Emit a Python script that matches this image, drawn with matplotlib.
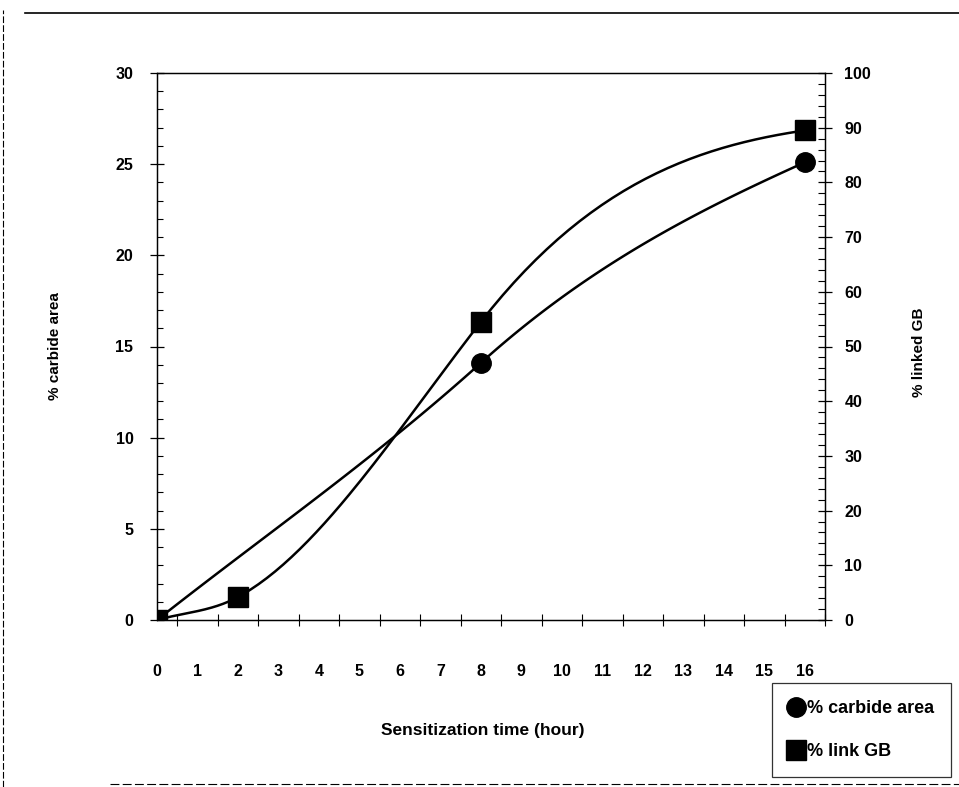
import numpy as np
import matplotlib
matplotlib.use("Agg")
import matplotlib.pyplot as plt
from matplotlib.lines import Line2D
from matplotlib.ticker import MultipleLocator

plt.rcParams["font.family"] = ["Liberation Sans", "DejaVu Sans"]
plt.rcParams["font.weight"] = "bold"

# data
carbide_hours = [0, 8, 16]
carbide_area = [0, 14.1, 25.1]
# slope of the drawn curve at each point (units per hour)
carbide_slope = [1.75, 2.0, 1.0]

link_hours = [0, 2, 8, 16]
link_gb = [0, 4.2, 54.5, 89.5]
link_slope = [2.1, 4.0, 9.5, 1.1]

hour_labels = [str(h) for h in range(17)]

X_MAX = 16.5
Y_LEFT_MAX = 30
Y_RIGHT_MAX = 100


def hermite(xs, ys, ms, n=60):
    # cubic Hermite pieces so the line bends the way the scanned one does
    out_x, out_y = [], []
    for i in range(len(xs) - 1):
        h = xs[i + 1] - xs[i]
        s = np.linspace(0, 1, n)
        h00 = 2 * s ** 3 - 3 * s ** 2 + 1
        h10 = s ** 3 - 2 * s ** 2 + s
        h01 = -2 * s ** 3 + 3 * s ** 2
        h11 = s ** 3 - s ** 2
        out_x.append(xs[i] + s * h)
        out_y.append(h00 * ys[i] + h10 * h * ms[i]
                     + h01 * ys[i + 1] + h11 * h * ms[i + 1])
    return np.concatenate(out_x), np.concatenate(out_y)


fig = plt.figure(figsize=(9.59, 7.87), dpi=100)
ax = fig.add_axes([157 / 959, 1 - 620 / 787, 668 / 959, 547 / 787])
ax2 = ax.twinx()

# curves
cx, cy = hermite(carbide_hours, carbide_area, carbide_slope)
ax.plot(cx, cy, color="black", lw=1.8, zorder=3)
ax.plot(carbide_hours, carbide_area, "o", color="black", ms=14, zorder=4)

lx, ly = hermite(link_hours, link_gb, link_slope)
ax2.plot(lx, ly, color="black", lw=1.8, zorder=3)
ax2.plot(link_hours, link_gb, "s", color="black", ms=14, zorder=4)

ax.set_xlim(0, X_MAX)
ax.set_ylim(0, Y_LEFT_MAX)
ax2.set_ylim(0, Y_RIGHT_MAX)

# x axis: labels on the hours, tick marks between them
ax.set_xticks(range(len(hour_labels)))
ax.set_xticklabels(hour_labels, fontsize=11.5, fontweight="bold")
ax.set_xticks(np.arange(0.5, 17, 1.0), minor=True)
ax.tick_params(axis="x", which="major", length=0, pad=32)
ax.tick_params(axis="x", which="minor", direction="inout", length=9, width=0.8)

# left axis
ax.yaxis.set_major_locator(MultipleLocator(5))
ax.yaxis.set_minor_locator(MultipleLocator(1))
ax.tick_params(axis="y", which="major", direction="inout", length=10,
               width=0.9, labelsize=11.5, pad=12)
ax.tick_params(axis="y", which="minor", direction="in", length=4, width=0.8)
for lab in ax.get_yticklabels():
    lab.set_fontweight("bold")

# right axis
ax2.yaxis.set_major_locator(MultipleLocator(10))
ax2.yaxis.set_minor_locator(MultipleLocator(2))
ax2.tick_params(axis="y", which="major", direction="inout", length=10,
                width=0.9, labelsize=11.5, pad=9)
ax2.tick_params(axis="y", which="minor", direction="in", length=5, width=0.8)
for lab in ax2.get_yticklabels():
    lab.set_fontweight("bold")

for a in (ax, ax2):
    for s in a.spines.values():
        s.set_linewidth(0.9)

ax.set_ylabel("% carbide area", fontsize=11, fontweight="bold")
ax2.set_ylabel("% linked GB", fontsize=11, fontweight="bold")
ax.yaxis.set_label_coords(-0.142, 0.5)
ax2.yaxis.set_label_coords(1.13, 0.49)

fig.text(483 / 959, 1 - 731 / 787, "Sensitization time (hour)",
         ha="center", va="center", fontsize=12.5, fontweight="bold")

# legend
handles = [
    Line2D([], [], ls="none", marker="o", color="black", ms=14),
    Line2D([], [], ls="none", marker="s", color="black", ms=14),
]
leg = fig.legend(handles, ["% carbide area", "% link GB"],
                 loc="upper left", bbox_to_anchor=(772 / 959, 1 - 683 / 787),
                 frameon=True, fancybox=False, edgecolor="black",
                 prop={"size": 13, "weight": "bold"},
                 handletextpad=0.2, labelspacing=1.45, borderpad=0.95,
                 handlelength=0.8, borderaxespad=0)
leg.get_frame().set_linewidth(0.9)

# page frame from the scan
fig.add_artist(Line2D([25 / 959, 1], [1 - 13 / 787, 1 - 13 / 787],
                      color="black", lw=1.2))
fig.add_artist(Line2D([3 / 959, 3 / 959], [0, 1 - 10 / 787],
                      color="black", lw=0.8, ls=(0, (6, 2))))
fig.add_artist(Line2D([110 / 959, 1], [1 - 784 / 787, 1 - 784 / 787],
                      color="black", lw=0.8, ls=(0, (8, 3))))

fig.savefig("out.png", dpi=100)
